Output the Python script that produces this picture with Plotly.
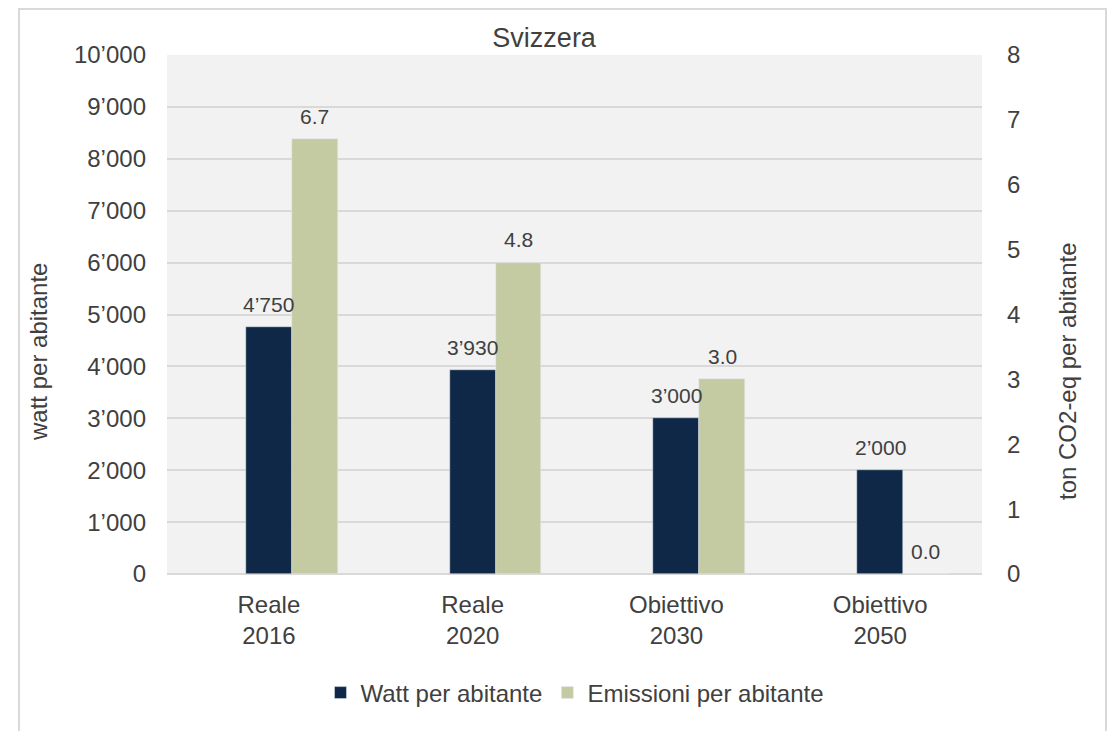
import plotly.graph_objects as go

categories = ["Reale<br>2016", "Reale<br>2020", "Obiettivo<br>2030", "Obiettivo<br>2050"]
watt = [4750, 3930, 3000, 2000]
emissioni = [6.7, 4.8, 3.0, 0.0]
watt_labels = ["4’750", "3’930", "3’000", "2’000"]
emiss_labels = ["6.7", "4.8", "3.0", "0.0"]
left_ticks = [0, 1000, 2000, 3000, 4000, 5000, 6000, 7000, 8000, 9000, 10000]
left_ticktext = ["0", "1’000", "2’000", "3’000", "4’000", "5’000", "6’000", "7’000", "8’000", "9’000", "10’000"]
right_ticks = [0, 1, 2, 3, 4, 5, 6, 7, 8]

FONT = "Liberation Sans, Arial, sans-serif"
TXT = "#404040"

OFF = 8  # page body margin
W, H = 1117 - OFF, 731 - OFF
# plot area in screen pixels: x 167-982, y 55-574
L, T = 167 - OFF, 55 - OFF
R = W - (982 - OFF)
B = H - (574 - OFF)
pw, ph = W - L - R, H - T - B

def px(x):
    return (x - OFF - L) / pw

def py(y):
    return (574 - y) / ph

BW = 0.225

fig = go.Figure()
fig.add_trace(go.Bar(
    x=categories, y=watt, name="Watt per abitante",
    marker_color="#0F2847", width=BW, offset=-BW / 2,
    yaxis="y",
))
fig.add_trace(go.Bar(
    x=categories, y=emissioni, name="Emissioni per abitante",
    marker_color="#C4CBA3", width=BW, offset=BW / 2,
    yaxis="y2",
))

annotations = []
for c, v, t in zip(categories, watt, watt_labels):
    annotations.append(dict(x=c, y=v, xref="x", yref="y", text=t, showarrow=False,
                            xshift=0, yshift=23, yanchor="middle",
                            font=dict(size=21, color=TXT, family=FONT)))
for c, v, t in zip(categories, emissioni, emiss_labels):
    annotations.append(dict(x=c, y=v, xref="x", yref="y2", text=t, showarrow=False,
                            xshift=BW * pw / 4, yshift=23, yanchor="middle",
                            font=dict(size=21, color=TXT, family=FONT)))
# axis titles (placed like the reference, slightly below the plot centre)
annotations.append(dict(x=px(38), y=py(352), xref="paper", yref="paper",
                        text="watt per abitante", textangle=-90, showarrow=False,
                        xanchor="center", yanchor="middle",
                        font=dict(size=24, color=TXT, family=FONT)))
annotations.append(dict(x=px(1067), y=py(371), xref="paper", yref="paper",
                        text="ton CO2-eq per abitante", textangle=-90, showarrow=False,
                        xanchor="center", yanchor="middle",
                        font=dict(size=24, color=TXT, family=FONT)))

fig.update_layout(
    width=W, height=H,
    margin=dict(l=L, r=R, t=T, b=B, autoexpand=False),
    paper_bgcolor="white",
    plot_bgcolor="#F2F2F2",
    font=dict(family=FONT, color=TXT, size=24),
    title=dict(text="Svizzera", x=px(561), xanchor="center", y=1 - (38 - OFF) / H, yanchor="middle",
               font=dict(size=27, color=TXT, family=FONT)),
    barmode="overlay",
    bargap=0,
    xaxis=dict(showgrid=False, tickfont=dict(size=24), ticks="", showline=False,
               ticklabelstandoff=14),
    yaxis=dict(range=[0, 10000], tickvals=left_ticks, ticktext=left_ticktext,
               showgrid=True, gridcolor="#D9D9D9", gridwidth=2, zeroline=True,
               zerolinecolor="#D9D9D9", zerolinewidth=2,
               tickfont=dict(size=24), ticks="", ticklabelstandoff=20),
    yaxis2=dict(range=[0, 8], tickvals=right_ticks, overlaying="y", side="right",
                showgrid=False, zeroline=False, tickfont=dict(size=24), ticks="",
                ticklabelstandoff=24),
    legend=dict(orientation="h", x=0.5, xanchor="center", y=py(693), yanchor="middle",
                font=dict(size=24), traceorder="normal"),
    showlegend=True,
    annotations=annotations,
    shapes=[dict(type="rect", xref="paper", yref="paper",
                 x0=px(19), x1=px(1106), y0=py(745), y1=py(9),
                 line=dict(color="#D9D9D9", width=2), fillcolor="rgba(0,0,0,0)", layer="below")],
)

fig.write_html("out.html")
